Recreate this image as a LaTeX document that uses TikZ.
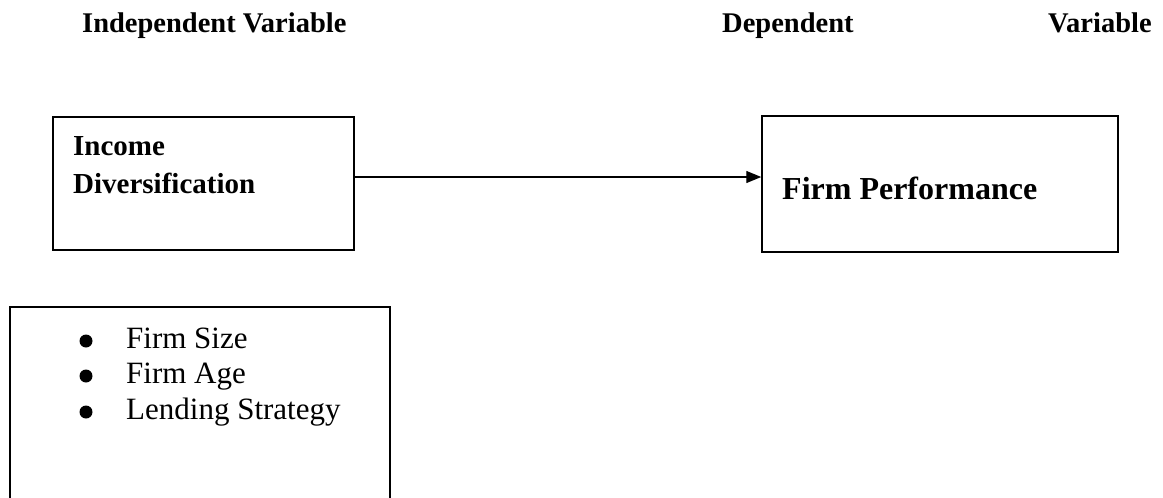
\documentclass[tikz,border=0pt]{standalone}
\usepackage{fontspec}
\setmainfont{Liberation Serif}
\usetikzlibrary{arrows.meta}
\tikzset{
  boxstyle/.style={draw, line width=1.5pt, rectangle, inner sep=0pt},
  headtxt/.style={anchor=base west, inner sep=0pt, font=\fontsize{28.5}{30}\selectfont\bfseries},
  intxt/.style={anchor=base west, inner sep=0pt, font=\fontsize{29}{31}\selectfont\bfseries},
  perftxt/.style={anchor=base west, inner sep=0pt, font=\fontsize{32}{34}\selectfont\bfseries},
  listtxt/.style={anchor=base west, inner sep=0pt, font=\fontsize{31}{33}\selectfont},
  bulletdot/.style={fill=black},
  conn/.style={line width=1.3pt, -{Triangle[length=15pt,width=12pt]}}
}
\begin{document}
\begin{tikzpicture}[x=1pt,y=-1pt]
\useasboundingbox (0,0) rectangle (1163,498);
% headers
\node[headtxt] (h1) at (82,32) {Independent Variable};
\node[headtxt] (h2) at (722,32) {Dependent};
\node[headtxt] (h3) at (1048,32) {Variable};
% boxes
\node[boxstyle, minimum width=301pt, minimum height=133pt] (a) at (203.5,183.5) {};
\node[boxstyle, minimum width=356pt, minimum height=136pt] (b) at (940,184) {};
\node[intxt] (a1) at (73,155) {Income};
\node[intxt] (a2) at (73,193) {Diversification};
\node[perftxt] (b1) at (782,199) {Firm Performance};
% connector
\coordinate (ay) at (0,177);
\draw[conn] (a.east |- ay) -- (b.west |- ay);
% control variables box (open at the bottom edge of the picture)
\draw[line width=1.5pt] (10,505) |- (390,307) -- (390,505);
\node[listtxt] (l1) at (126,348) {Firm Size};
\node[listtxt] (l2) at (126,383) {Firm Age};
\node[listtxt] (l3) at (126,419) {Lending Strategy};
\fill[bulletdot] (86,341) circle (6.5pt);
\fill[bulletdot] (86,376) circle (6.5pt);
\fill[bulletdot] (86,412) circle (6.5pt);
\end{tikzpicture}
\end{document}
